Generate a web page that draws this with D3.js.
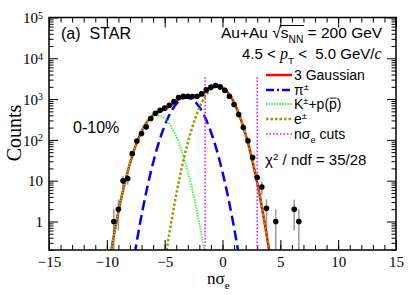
<!DOCTYPE html>
<html><head><meta charset="utf-8">
<script src="https://cdn.jsdelivr.net/npm/d3@7"></script>
<style>body{margin:0;background:#fff} svg{display:block} svg text{white-space:pre}</style>
</head><body>
<script>
// ---- data ----
const nSigmaE = [-9.4,-9.0,-8.6,-8.2,-7.8,-7.4,-7.0,-6.6,-6.2,-5.8,-5.4,-5.0,-4.6,-4.2,-3.8,-3.4,-3.0,-2.6,-2.2,-1.8,-1.4,-1.0,-0.6,-0.2,0.2,0.6,1.0,1.4,1.8,2.2,2.6,3.0,3.4,3.8,4.6,6.2,6.6];
const counts  = [1.0,2.0,9.9,11.3,46,94,143,208,334,450,535,600,707,870,1090,1170,1170,1150,1170,1340,1680,1960,2150,1990,1650,1170,735,420,200,95,37,12,7,2.1,1,2,1];
const countErr = [1.0,1.4,3.1,3.4,6.8,9.7,12,14.4,18.3,21,23,24.5,26.6,29.5,33,34,34,34,34,36.6,41,44,46,44.6,40.6,34.2,27,20.5,14,9.7,6.1,3.5,2.6,1.4,1.0,1.4,1.0];
const xTickValues = [-15,-10,-5,0,5,10,15];
const yTickValues = [1,10,100,1000,10000,100000];
const componentNames  = ["pi","Kp","e"];
const componentMean   = [-3.1,-5.6,-0.4];
const componentSigma  = [1.07,1.03,1.03];
const componentAmp    = [1080,400,2050];
const cutValues = [-1.5,3.0];
const cutTop = 3500;

// ---- setup ----
const W=411,H=295;
const M={l:49,r:396,t:17.5,b:250};
const svg=d3.select("body").append("svg").attr("width",W).attr("height",H).attr("xml:space","preserve");
const x=d3.scaleLinear().domain([-15,15]).range([M.l,M.r]);
const y=d3.scaleLog().domain([0.2,1e5]).range([M.b,M.t]);
const SERIF="'Liberation Serif','Times New Roman',serif";
const SANS="'Liberation Sans',Arial,Helvetica,sans-serif";

svg.append("defs").append("clipPath").attr("id","clip").append("rect")
  .attr("x",M.l).attr("y",M.t).attr("width",M.r-M.l).attr("height",M.b-M.t);

// ---- axes ----
function styleAxis(g){g.select(".domain").remove();g.selectAll(".tick line").attr("stroke","#000").attr("stroke-width",1);}
const minorX=d3.range(-15,15.01,1);
const minorY=[];
for(let e=-1;e<5;e++){for(let k=1;k<10;k++){const v=k*Math.pow(10,e);if(v>=0.2&&v<=1e5&&k!==1)minorY.push(v);}}

svg.append("g").attr("transform",`translate(0,${M.b})`)
  .call(d3.axisBottom(x).tickValues(minorX).tickSize(-5).tickFormat("")).call(styleAxis);
svg.append("g").attr("transform",`translate(0,${M.t})`)
  .call(d3.axisTop(x).tickValues(minorX).tickSize(-5).tickFormat("")).call(styleAxis);
svg.append("g").attr("transform",`translate(0,${M.t})`)
  .call(d3.axisTop(x).tickValues(xTickValues).tickSize(-10).tickFormat("")).call(styleAxis);
const xb=svg.append("g").attr("transform",`translate(0,${M.b})`)
  .call(d3.axisBottom(x).tickValues(xTickValues).tickSize(-10).tickPadding(6)
  .tickFormat(d=>d<0?"\u2212"+Math.abs(d):String(d))).call(styleAxis);
xb.selectAll(".tick text").attr("font-family",SERIF).attr("font-size",15).attr("fill","#000");

svg.append("g").attr("transform",`translate(${M.l},0)`)
  .call(d3.axisLeft(y).tickValues(minorY).tickSize(-4.5).tickFormat("")).call(styleAxis);
svg.append("g").attr("transform",`translate(${M.r},0)`)
  .call(d3.axisRight(y).tickValues(minorY).tickSize(-4.5).tickFormat("")).call(styleAxis);
svg.append("g").attr("transform",`translate(${M.r},0)`)
  .call(d3.axisRight(y).tickValues(yTickValues).tickSize(-9).tickFormat("")).call(styleAxis);
const yl=svg.append("g").attr("transform",`translate(${M.l},0)`)
  .call(d3.axisLeft(y).tickValues(yTickValues).tickSize(-9).tickPadding(6).tickFormat(d=>String(d))).call(styleAxis);
yl.selectAll(".tick text").each(function(d){
  const t=d3.select(this).text("").attr("font-family",SERIF).attr("font-size",15).attr("fill","#000").attr("dy","0.35em");
  const e=Math.round(Math.log10(d));
  if(e===0){t.text("1");}
  else if(e===1){t.text("10");}
  else{t.append("tspan").text("10");t.append("tspan").attr("dy","-0.45em").attr("font-size",10).text(String(e));}
});

// ---- plot content ----
const plot=svg.append("g").attr("clip-path","url(#clip)");
const grid=d3.range(-15,15.0001,0.02);
const comp=(i,v)=>componentAmp[i]*Math.exp(-Math.pow(v-componentMean[i],2)/(2*componentSigma[i]*componentSigma[i]));
const safe=v=>Math.max(v,1e-8);
const lineGen=f=>d3.line().x(v=>x(v)).y(v=>y(safe(f(v))))(grid);

plot.selectAll(".eb").data(nSigmaE).enter().append("line")
  .attr("x1",d=>x(d)).attr("x2",d=>x(d))
  .attr("y1",(d,i)=>y(Math.max(counts[i]-countErr[i],0.05)))
  .attr("y2",(d,i)=>y(counts[i]+countErr[i]))
  .attr("stroke","#999").attr("stroke-width",1.5);

plot.append("path").attr("d",lineGen(v=>comp(0,v)+comp(1,v)+comp(2,v)))
  .attr("fill","none").attr("stroke","#ff0000").attr("stroke-width",2.5);
plot.append("path").attr("d",lineGen(v=>comp(0,v)))
  .attr("fill","none").attr("stroke","#0000ff").attr("stroke-width",2.5).attr("stroke-dasharray","10,5");
plot.append("path").attr("d",lineGen(v=>comp(1,v)))
  .attr("fill","none").attr("stroke","#33ff33").attr("stroke-width",1.8).attr("stroke-dasharray","1.5,1.2");
plot.append("path").attr("d",lineGen(v=>comp(2,v)))
  .attr("fill","none").attr("stroke","#999900").attr("stroke-width",2.5).attr("stroke-dasharray","2.5,2");
plot.selectAll(".cut").data(cutValues).enter().append("line")
  .attr("x1",d=>x(d)).attr("x2",d=>x(d)).attr("y1",y(0.2)).attr("y2",y(cutTop))
  .attr("stroke","#ff00ff").attr("stroke-width",1.5).attr("stroke-dasharray","1.5,2");
plot.selectAll(".pt").data(nSigmaE).enter().append("circle")
  .attr("cx",d=>x(d)).attr("cy",(d,i)=>y(counts[i])).attr("r",2.8).attr("fill","#000");

svg.append("rect").attr("x",M.l).attr("y",M.t).attr("width",M.r-M.l).attr("height",M.b-M.t)
  .attr("fill","none").attr("stroke","#000").attr("stroke-width",1.5);

// ---- rich text helper ----
function rich(x0,y0,parts,size,family){
  let cx=x0;
  parts.forEach(p=>{
    const fs=(p.sub||p.sup)?size*0.66:size;
    const dy=p.sub?size*0.3:(p.sup?-size*0.36:0);
    const t=svg.append("text").attr("x",cx).attr("y",y0+dy).attr("font-size",p.fs||fs)
      .attr("font-family",p.family||family).attr("fill","#000").text(p.t);
    if(p.italic)t.attr("font-style","italic");
    const w=t.node().getComputedTextLength();
    if(p.over){svg.append("line").attr("x1",cx+0.5).attr("x2",cx+w-0.3)
      .attr("y1",y0+dy-fs*0.78).attr("y2",y0+dy-fs*0.78).attr("stroke","#000").attr("stroke-width",0.9);}
    p.x0=cx;p.w=w;
    cx+=w+(p.gap||0);
  });
  return cx;
}

rich(61,39,[{t:"(a)  STAR"}],16,SANS);
rich(73,133,[{t:"0-10%"}],16,SANS);
{
  const parts=[{t:"Au+Au "},{t:"\u221A"},{t:"s"},{t:"NN",sub:true},{t:" = 200 GeV"}];
  rich(221,38,parts,15.5,SANS);
  const x2=parts[3].x0+parts[3].w;
  svg.append("line").attr("x1",parts[1].x0+parts[1].w-1).attr("x2",x2+0.5).attr("y1",38-12.5).attr("y2",38-12.5)
    .attr("stroke","#000").attr("stroke-width",1);
}
rich(242,59,[{t:"4.5 < "},{t:"p",italic:true,family:SERIF,fs:16},{t:"T",sub:true},{t:" <  5.0 GeV/"},{t:"c",italic:true,family:SERIF,fs:16}],15,SANS);

const legY=[75,90,104,119,134];
const legStyles=[
  {c:"#ff0000",w:2.5,d:null},
  {c:"#0000ff",w:2.5,d:"8,3,2,3"},
  {c:"#33ff33",w:1.8,d:"1.5,1.2"},
  {c:"#999900",w:2.5,d:"2.5,2"},
  {c:"#ff00ff",w:1.5,d:"1.5,2"}];
legStyles.forEach((s,i)=>{
  svg.append("line").attr("x1",266).attr("x2",292).attr("y1",legY[i]).attr("y2",legY[i])
    .attr("stroke",s.c).attr("stroke-width",s.w).attr("stroke-dasharray",s.d);
});
const LX=294, LS=14;
rich(LX,legY[0]+5,[{t:"3 Gaussian"}],LS,SANS);
rich(LX,legY[1]+5,[{t:"\u03C0"},{t:"\u00B1",sup:true}],LS,SANS);
rich(LX,legY[2]+5,[{t:"K"},{t:"\u00B1",sup:true},{t:"+p("},{t:"p",over:true},{t:")"}],LS,SANS);
rich(LX,legY[3]+5,[{t:"e"},{t:"\u00B1",sup:true}],LS,SANS);
rich(LX,legY[4]+5,[{t:"n\u03C3"},{t:"e",sub:true},{t:" cuts"}],LS,SANS);

rich(265,165,[{t:"\u03C7"},{t:"2",sup:true},{t:" / ndf = 35/28"}],15,SANS);

rich(207,284,[{t:"n\u03C3"},{t:"e",sub:true}],17,SERIF);
svg.append("text").attr("transform","translate(21,133) rotate(-90)").attr("text-anchor","middle")
  .attr("font-family",SERIF).attr("font-size",20).attr("fill","#000").text("Counts");
</script>
</body></html>
